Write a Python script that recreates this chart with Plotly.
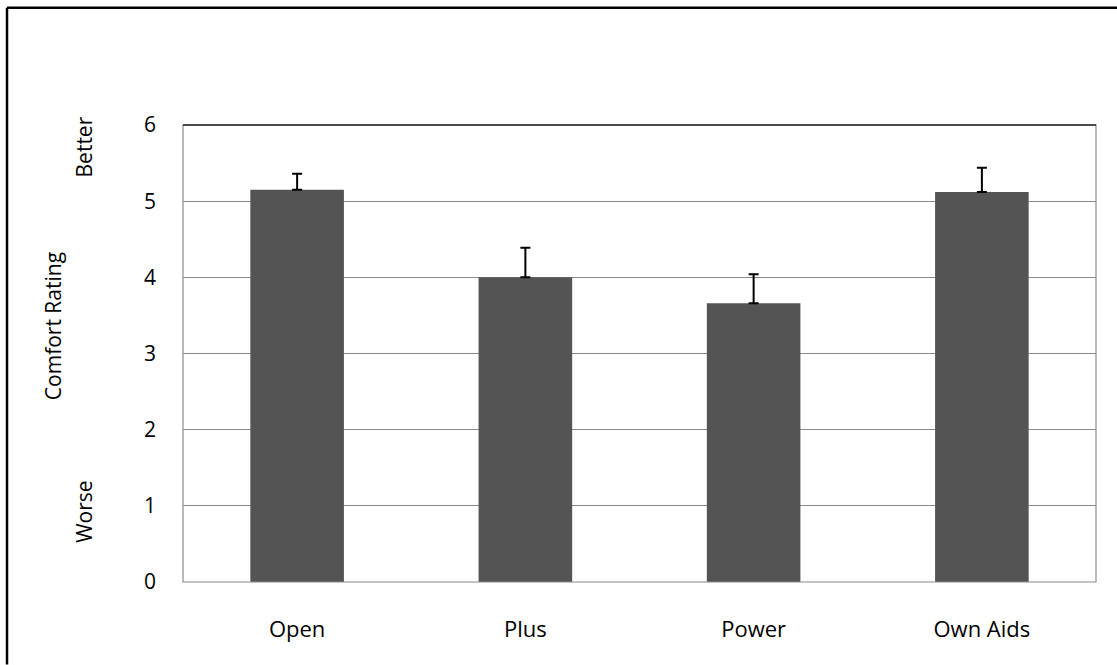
import plotly.graph_objects as go

categories = ["Open", "Plus", "Power", "Own Aids"]
means = [5.15, 4.0, 3.66, 5.12]
err_plus = [0.21, 0.39, 0.38, 0.32]
err_minus = [0, 0, 0, 0]
y_ticks = [0, 1, 2, 3, 4, 5, 6]

W, H = 1117, 665
L, R, T, B = 183, 21, 124.5, 82.7
pw, ph = W - L - R, H - T - B


def px_x(x):
    return (x - L) / pw


def px_y(y):
    return (H - B - y) / ph


fig = go.Figure()
fig.add_trace(go.Bar(
    x=categories, y=means,
    marker=dict(color="#545454", line=dict(width=0)),
    error_y=dict(type="data", array=err_plus, arrayminus=err_minus, symmetric=False,
                 color="#000000", thickness=2, width=5),
    width=0.41,
))

fig.update_layout(
    width=W, height=H,
    margin=dict(l=L, r=R, t=T, b=B),
    paper_bgcolor="white", plot_bgcolor="white",
    showlegend=False,
    font=dict(family="Open Sans", color="#000000"),
    xaxis=dict(showgrid=False, showline=False, ticks="", tickfont=dict(size=22, family="Open Sans"),
               ticklabelstandoff=32, zeroline=False),
    yaxis=dict(range=[0, 6], tickvals=y_ticks, showgrid=True, gridcolor="#8a8a8a", gridwidth=1,
               zeroline=False, showline=False, ticks="", tickfont=dict(size=21, family="Open Sans"),
               ticklabelstandoff=26),
)

# plot area frame
fig.add_shape(type="rect", xref="paper", yref="paper", x0=0, x1=1, y0=0, y1=1,
              line=dict(color="#8a8a8a", width=1.2), layer="above")
fig.add_shape(type="line", xref="paper", yref="paper", x0=0, x1=1, y0=1, y1=1,
              line=dict(color="#222222", width=1.5), layer="above")

# outer frame (top and left edges)
fig.add_shape(type="line", xref="paper", yref="paper", x0=px_x(7), x1=px_x(1117), y0=px_y(7), y1=px_y(7),
              line=dict(color="#000000", width=2.5))
fig.add_shape(type="line", xref="paper", yref="paper", x0=px_x(7), x1=px_x(7), y0=px_y(7), y1=px_y(665),
              line=dict(color="#000000", width=2.5))

for text, cx, cy in [("Better", 84, 147), ("Comfort Rating", 53, 326), ("Worse", 84, 512)]:
    fig.add_annotation(text=text, xref="paper", yref="paper", x=px_x(cx), y=px_y(cy),
                       textangle=-90, showarrow=False, xanchor="center", yanchor="middle",
                       font=dict(size=21, family="Open Sans", color="#000000"))

fig.write_html("out.html", config={"displayModeBar": False},
               post_script="document.body.style.margin='0';document.body.style.overflow='hidden';")
